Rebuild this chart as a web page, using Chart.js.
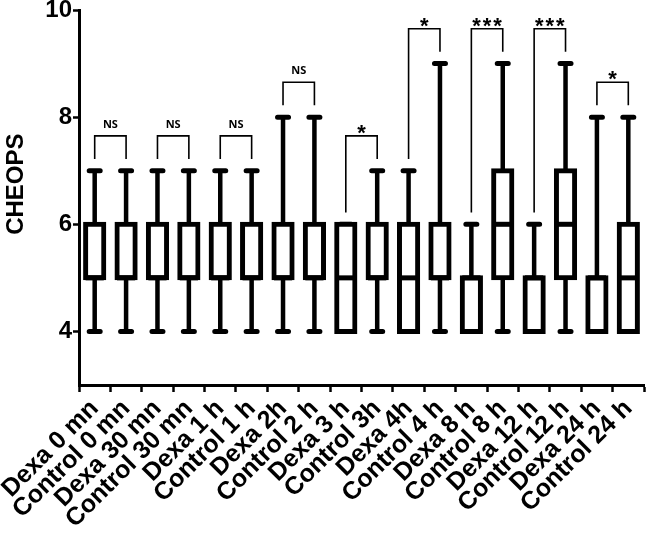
<!DOCTYPE html>
<html>
<head>
<meta charset="utf-8">
<script src="https://cdn.jsdelivr.net/npm/chart.js@4/dist/chart.umd.min.js"></script>
<style>
  html, body { margin: 0; padding: 0; background: #fff; }
  #wrap { width: 646px; height: 535px; }
</style>
</head>
<body>
<div id="wrap"><canvas id="myChart"></canvas></div>
<script>
// groups, in order along the x axis
const categories = ["Dexa 0 mn", "Control 0 mn", "Dexa 30 mn", "Control 30 mn", "Dexa 1 h", "Control 1 h",
  "Dexa 2h", "Control 2 h", "Dexa 3 h", "Control 3h", "Dexa 4h", "Control 4 h",
  "Dexa 8 h", "Control 8 h", "Dexa 12 h", "Control 12 h", "Dexa 24 h", "Control 24 h"];

// box plot values (CHEOPS score)
const whiskerMin = [4, 4, 4, 4, 4, 4, 4, 4, 4, 4, 4, 4, 4, 4, 4, 4, 4, 4];
const q1         = [5, 5, 5, 5, 5, 5, 5, 5, 4, 5, 4, 5, 4, 5, 4, 5, 4, 4];
const median     = [5, 5, 5, 5, 5, 5, 5, 5, 5, 5, 5, 5, 5, 6, 5, 6, 5, 5];
const q3         = [6, 6, 6, 6, 6, 6, 6, 6, 6, 6, 6, 6, 5, 7, 5, 7, 5, 6];
const whiskerMax = [7, 7, 7, 7, 7, 7, 8, 8, 6, 7, 7, 9, 6, 9, 6, 9, 8, 8];

// Dexa vs Control comparisons
const pairs = [[0, 1], [2, 3], [4, 5], [6, 7], [8, 9], [10, 11], [12, 13], [14, 15], [16, 17]];
const sigLabels = ["NS", "NS", "NS", "NS", "*", "*", "***", "***", "*"];

const yTicks = [4, 6, 8, 10];

const boxPlot = {
  id: 'boxPlot',
  beforeDatasetsDraw(chart) {
    const ctx = chart.ctx, x = chart.scales.x, y = chart.scales.y;
    ctx.save();
    ctx.strokeStyle = '#000';
    categories.forEach((c, i) => {
      const px = x.getPixelForValue(i);
      ctx.lineWidth = 4.5;
      ctx.lineCap = 'butt';
      ctx.beginPath();
      ctx.moveTo(px, y.getPixelForValue(whiskerMin[i]));
      ctx.lineTo(px, y.getPixelForValue(q1[i]));
      ctx.moveTo(px, y.getPixelForValue(q3[i]));
      ctx.lineTo(px, y.getPixelForValue(whiskerMax[i]));
      ctx.stroke();
      ctx.lineWidth = 5;
      ctx.lineCap = 'round';
      ctx.beginPath();
      [whiskerMin[i], whiskerMax[i]].forEach(v => {
        const py = y.getPixelForValue(v);
        ctx.moveTo(px - 5.5, py);
        ctx.lineTo(px + 5.5, py);
      });
      ctx.stroke();
    });
    ctx.restore();
  },
  afterDatasetsDraw(chart) {
    const ctx = chart.ctx, x = chart.scales.x, y = chart.scales.y;
    const bars = chart.getDatasetMeta(0).data;
    ctx.save();
    ctx.strokeStyle = '#000';
    ctx.fillStyle = '#000';
    // medians
    ctx.lineWidth = 5;
    ctx.lineCap = 'butt';
    categories.forEach((c, i) => {
      const px = x.getPixelForValue(i), w = bars[i].width / 2;
      const py = y.getPixelForValue(median[i]);
      ctx.beginPath();
      ctx.moveTo(px - w, py);
      ctx.lineTo(px + w, py);
      ctx.stroke();
    });
    // significance brackets
    ctx.lineWidth = 1.6;
    ctx.lineCap = 'butt';
    ctx.textAlign = 'center';
    pairs.forEach(([a, b], k) => {
      const xa = x.getPixelForValue(a), xb = x.getPixelForValue(b);
      const top = y.getPixelForValue(Math.max(whiskerMax[a], whiskerMax[b]) + 0.65);
      ctx.beginPath();
      ctx.moveTo(xa, y.getPixelForValue(whiskerMax[a] + 0.22));
      ctx.lineTo(xa, top);
      ctx.lineTo(xb, top);
      ctx.lineTo(xb, y.getPixelForValue(whiskerMax[b] + 0.22));
      ctx.stroke();
      const label = sigLabels[k];
      const cx = (xa + xb) / 2;
      if (label === 'NS') {
        ctx.font = 'bold 11px "Open Sans", sans-serif';
        ctx.textBaseline = 'middle';
        ctx.fillText(label, cx, top - 11);
      } else {
        ctx.font = 'bold 22px "Liberation Sans", Arial, sans-serif';
        ctx.textBaseline = 'alphabetic';
        const n = label.length;
        for (let j = 0; j < n; j++) {
          ctx.fillText('*', cx + (j - (n - 1) / 2) * 10.5, top + 4);
        }
      }
    });
    ctx.restore();
  }
};

new Chart(document.getElementById('myChart'), {
  type: 'bar',
  data: {
    labels: categories,
    datasets: [{
      data: categories.map((c, i) => [q1[i], q3[i]]),
      backgroundColor: '#fff',
      borderColor: '#000',
      borderWidth: 5,
      borderSkipped: false,
      inflateAmount: 2.5,
      barPercentage: 0.58,
      categoryPercentage: 1
    }]
  },
  options: {
    responsive: true,
    maintainAspectRatio: false,
    animation: false,
    layout: { padding: { top: 0, right: 2, bottom: 0, left: 0 } },
    plugins: { legend: { display: false }, tooltip: { enabled: false } },
    scales: {
      x: {
        grid: { display: true, drawOnChartArea: false, drawTicks: true, tickLength: 7, tickWidth: 2.5, tickColor: '#000' },
        border: { display: true, color: '#000', width: 3 },
        ticks: {
          color: '#000', autoSkip: false, minRotation: 45, maxRotation: 45, padding: 2,
          font: { family: '"Liberation Sans", Arial, sans-serif', size: 25, weight: 'bold' }
        },
        afterFit(s) { s.height = 150; s.paddingLeft = 0; s.paddingRight = 0; }
      },
      y: {
        min: 3,
        max: 10,
        afterBuildTicks(s) { s.ticks = yTicks.map(v => ({ value: v })); },
        grid: { display: true, drawOnChartArea: false, drawTicks: true, tickLength: 6, tickWidth: 2.5, tickColor: '#000' },
        border: { display: true, color: '#000', width: 3 },
        ticks: {
          color: '#000', padding: 1,
          font: { family: '"Liberation Sans", Arial, sans-serif', size: 24, weight: 'bold' }
        },
        title: {
          display: true, text: '\u00a0\u00a0\u00a0\u00a0CHEOPS', color: '#000', padding: { top: 2, bottom: 4 },
          font: { family: '"Liberation Sans", Arial, sans-serif', size: 24, weight: 'bold' }
        },
        afterFit(s) { s.width = 79; s.paddingTop = 10; s.paddingBottom = 0; }
      }
    }
  },
  plugins: [boxPlot]
});
</script>
</body>
</html>
